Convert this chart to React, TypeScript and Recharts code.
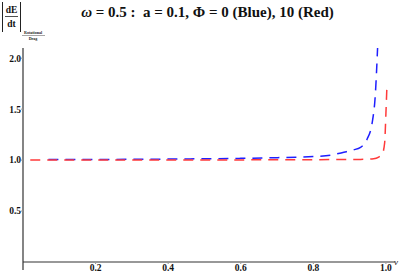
import React from 'react';
import { LineChart, Line, XAxis, YAxis } from 'recharts';

const blueV = [0.07, 0.2, 0.4, 0.5, 0.6, 0.7, 0.8, 0.85, 0.884, 0.91, 0.93, 0.948, 0.962, 0.971, 0.977];
const blueY = [1.005, 1.006, 1.01, 1.013, 1.017, 1.024, 1.035, 1.05, 1.077, 1.1, 1.125, 1.205, 1.365, 1.654, 2.1];
const redV = [0.02, 0.2, 0.4, 0.6, 0.8, 0.9, 0.93, 0.966, 0.98, 0.99, 0.9965, 1.0, 1.003];
const redY = [1.0, 1.0, 1.001, 1.002, 1.004, 1.006, 1.007, 1.013, 1.03, 1.06, 1.17, 1.46, 1.75];
const xTicks = [0.2, 0.4, 0.6, 0.8, 1.0];
const yTicks = [0.5, 1.0, 1.5, 2.0];

const blueData = blueV.map((v, i) => ({ v, y: blueY[i] }));
const redData = redV.map((v, i) => ({ v, y: redY[i] }));

const FONT = '"Liberation Serif", "Times New Roman", serif';

export default function App() {
  return (
    <div style={{ position: 'absolute', left: 0, top: 0, width: 400, height: 274, background: '#fff', fontFamily: FONT }}>
      <LineChart width={400} height={274} margin={{ top: 48, right: 5, bottom: 0, left: 0 }}>
        <XAxis
          type="number"
          dataKey="v"
          domain={[0, 1.025]}
          ticks={xTicks}
          tickFormatter={(t: number) => t.toFixed(1)}
          height={12}
          tickSize={2}
          tickMargin={0}
          axisLine={{ stroke: '#333', strokeWidth: 1.2 }}
          tickLine={{ stroke: '#999' }}
          tick={{ fontSize: 9.5, fontWeight: 'bold', fill: '#111', fontFamily: FONT }}
          allowDuplicatedCategory={false}
        />
        <YAxis
          type="number"
          domain={[0, 2.058]}
          ticks={yTicks}
          tickFormatter={(t: number) => t.toFixed(1)}
          width={23}
          tickSize={2}
          tickMargin={0}
          axisLine={{ stroke: '#333', strokeWidth: 1.2 }}
          tickLine={{ stroke: '#999' }}
          tick={{ fontSize: 9.5, fontWeight: 'bold', fill: '#111', fontFamily: FONT }}
        />
        <Line data={blueData} dataKey="y" type="monotone" stroke="#1f1fff" strokeWidth={1.5} strokeDasharray="10 7" dot={false} isAnimationActive={false} />
        <Line data={redData} dataKey="y" type="monotone" stroke="#ff3a3a" strokeWidth={1.5} strokeDasharray="10 7" dot={false} isAnimationActive={false} />
      </LineChart>
      <div style={{ position: 'absolute', left: 0, top: 3, width: 415, textAlign: 'center', fontSize: 15, fontWeight: 'bold', fontFamily: FONT, lineHeight: '18px', whiteSpace: 'pre', color: '#111' }}>
        <i>ω</i>{' = 0.5 :  a = 0.1, Φ = 0 (Blue), 10 (Red)'}
      </div>
      <svg style={{ position: 'absolute', left: 0, top: 0 }} width={60} height={45}>
        <line x1={23.5} y1={262} x2={23.5} y2={270} stroke="#333" strokeWidth={1.2} />
        <line x1={2.5} y1={2} x2={2.5} y2={32} stroke="#222" strokeWidth={1} />
        <line x1={20.5} y1={2} x2={20.5} y2={32} stroke="#222" strokeWidth={1} />
        <text x={11.5} y={13} textAnchor="middle" fontSize={9.5} fontWeight="bold" fontFamily={FONT} fill="#111">dE</text>
        <line x1={5} y1={16.5} x2={18} y2={16.5} stroke="#222" strokeWidth={0.8} />
        <text x={11.5} y={27} textAnchor="middle" fontSize={9.5} fontWeight="bold" fontFamily={FONT} fill="#111">dt</text>
        <text x={33} y={34} textAnchor="middle" fontSize={4} fontWeight="bold" fontFamily={FONT} fill="#222">Rotational</text>
        <line x1={22} y1={35.5} x2={45} y2={35.5} stroke="#222" strokeWidth={0.4} />
        <text x={33} y={40} textAnchor="middle" fontSize={4} fontWeight="bold" fontFamily={FONT} fill="#222">Drag</text>
      </svg>
      <svg style={{ position: 'absolute', left: 0, top: 0, pointerEvents: 'none' }} width={400} height={274}>
        <line x1={23} y1={262} x2={23} y2={270} stroke="#333" strokeWidth={1.2} />
      </svg>
      <div style={{ position: 'absolute', left: 394, top: 257, fontSize: 9, fontStyle: 'italic', fontFamily: FONT, color: '#222' }}>v</div>
    </div>
  );
}
